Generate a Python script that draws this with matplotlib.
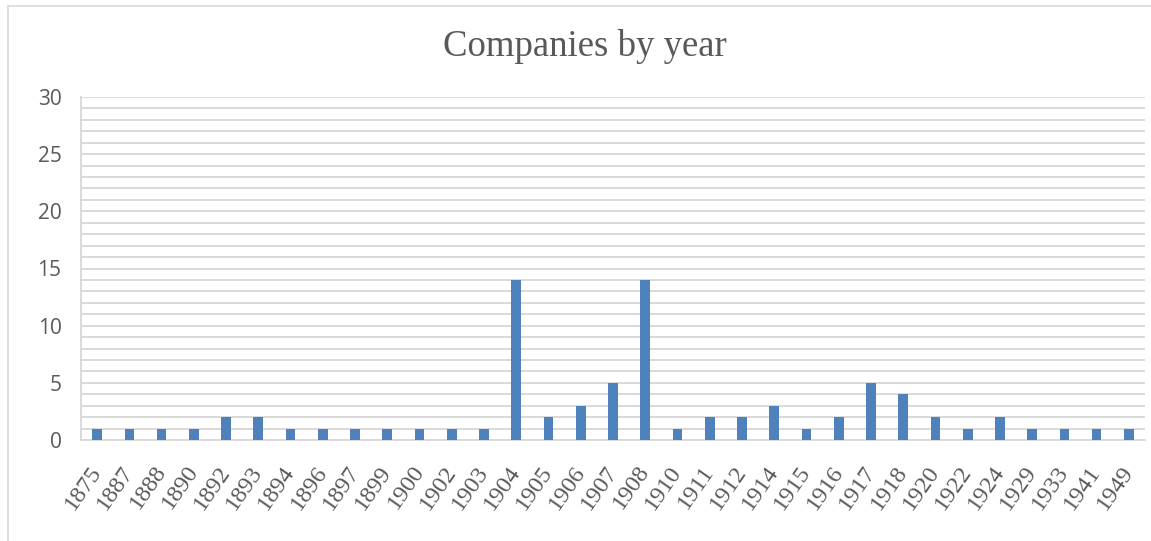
import numpy as np
import matplotlib.pyplot as plt
from matplotlib.lines import Line2D

# data
years = ['1875', '1887', '1888', '1890', '1892', '1893', '1894', '1896', '1897', '1899',
         '1900', '1902', '1903', '1904', '1905', '1906', '1907', '1908', '1910', '1911',
         '1912', '1914', '1915', '1916', '1917', '1918', '1920', '1922', '1924', '1929',
         '1933', '1941', '1949']
counts = [1, 1, 1, 1, 2, 2, 1, 1, 1, 1,
          1, 1, 1, 14, 2, 3, 5, 14, 1, 2,
          2, 3, 1, 2, 5, 4, 2, 1, 2, 1,
          1, 1, 1]

fig = plt.figure(figsize=(11.51, 5.41), dpi=100)
ax = fig.add_axes([81 / 1151, 1 - 440 / 541, (1145 - 81) / 1151, (440 - 97) / 541])

x = np.arange(len(years))
ax.bar(x, counts, width=0.3, color='#4F81BD', zorder=3)

ax.set_xlim(-0.5, len(years) - 0.5)
ax.set_ylim(0, 30)
ax.set_yticks(range(0, 31, 5))
ax.set_yticks(range(0, 31), minor=True)
ax.yaxis.grid(True, which='both', color='#D9D9D9', linewidth=1.4, zorder=0)
ax.tick_params(axis='y', which='both', length=0, pad=14, labelsize=15, labelcolor='#595959')
ax.set_yticklabels([str(v) for v in range(0, 31, 5)], fontfamily='Open Sans')

ax.set_xticks(x)
ax.set_xticklabels(years, rotation=55, ha='right', va='center', rotation_mode='anchor',
                   fontfamily='Liberation Serif', fontsize=17.5, color='#595959')
ax.tick_params(axis='x', length=0, pad=20)

for s in ['top', 'right']:
    ax.spines[s].set_visible(False)
ax.spines['left'].set_color('#D9D9D9')
ax.spines['left'].set_linewidth(1.4)
ax.spines['bottom'].set_color('#D9D9D9')
ax.spines['bottom'].set_linewidth(1.4)

fig.text(585 / 1151, 1 - 47 / 541, 'Companies by year', ha='center', va='center',
         fontfamily='Liberation Serif', fontsize=26.5, color='#595959')

# outer chart frame (partially visible)
fig.add_artist(Line2D([8 / 1151, 1], [1 - 6 / 541, 1 - 6 / 541], color='#D9D9D9', linewidth=1.2))
fig.add_artist(Line2D([8 / 1151, 8 / 1151], [0, 1 - 6 / 541], color='#D9D9D9', linewidth=1.2))

plt.savefig('out.png', dpi=100)
plt.close()
